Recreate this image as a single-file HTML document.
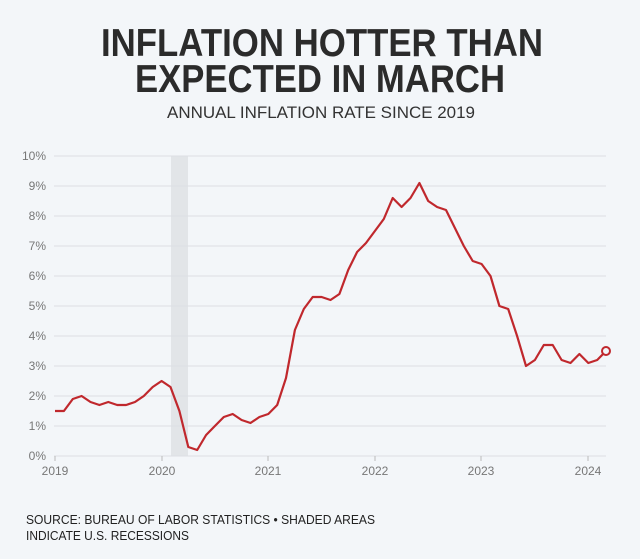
<!DOCTYPE html>
<html><head><style>
html,body{margin:0;padding:0;background:#f3f6f9;}
</style></head><body>
<svg width="640" height="559" xmlns="http://www.w3.org/2000/svg" style="display:block;font-family:'Liberation Sans',sans-serif">
<rect width="640" height="559" fill="#f3f6f9"/>
<text x="322" y="56" text-anchor="middle" font-size="39" font-weight="bold" fill="#2b2b2b" textLength="442" lengthAdjust="spacingAndGlyphs">INFLATION HOTTER THAN</text>
<text x="320" y="92" text-anchor="middle" font-size="39" font-weight="bold" fill="#2b2b2b" textLength="370" lengthAdjust="spacingAndGlyphs">EXPECTED IN MARCH</text>
<text x="321" y="118" text-anchor="middle" font-size="17" fill="#333" textLength="308" lengthAdjust="spacingAndGlyphs">ANNUAL INFLATION RATE SINCE 2019</text>
<rect x="171" y="156" width="17" height="300" fill="#e2e5e8"/>
<g stroke="#dcdfe3" stroke-width="1">
<line x1="54" x2="606" y1="156" y2="156"/><line x1="54" x2="606" y1="186" y2="186"/><line x1="54" x2="606" y1="216" y2="216"/><line x1="54" x2="606" y1="246" y2="246"/><line x1="54" x2="606" y1="276" y2="276"/><line x1="54" x2="606" y1="306" y2="306"/><line x1="54" x2="606" y1="336" y2="336"/><line x1="54" x2="606" y1="366" y2="366"/><line x1="54" x2="606" y1="396" y2="396"/><line x1="54" x2="606" y1="426" y2="426"/><line x1="54" x2="606" y1="456" y2="456"/>
</g>
<g stroke="#bbb"><line x1="55" x2="55" y1="456" y2="461"/><line x1="162" x2="162" y1="456" y2="461"/><line x1="268" x2="268" y1="456" y2="461"/><line x1="375" x2="375" y1="456" y2="461"/><line x1="481" x2="481" y1="456" y2="461"/><line x1="588" x2="588" y1="456" y2="461"/></g>
<g font-size="12" fill="#777" text-anchor="end">
<text x="46" y="160">10%</text><text x="46" y="190">9%</text><text x="46" y="220">8%</text><text x="46" y="250">7%</text><text x="46" y="280">6%</text><text x="46" y="310">5%</text><text x="46" y="340">4%</text><text x="46" y="370">3%</text><text x="46" y="400">2%</text><text x="46" y="430">1%</text><text x="46" y="460">0%</text>
</g>
<g font-size="12" fill="#777" text-anchor="middle">
<text x="55" y="475">2019</text><text x="162" y="475">2020</text><text x="268" y="475">2021</text><text x="375" y="475">2022</text><text x="481" y="475">2023</text><text x="588" y="475">2024</text>
</g>
<polyline fill="none" stroke="#c0282d" stroke-width="2.2" stroke-linejoin="round" points="55,411 63.9,411 72.8,399 81.6,396 90.5,402 99.4,405 108.3,402 117.2,405 126.1,405 135,402 143.8,396 152.7,387 161.6,381 170.5,387 179.4,411 188.3,447 197.2,450 206.1,435 214.9,426 223.8,417 232.7,414 241.6,420 250.5,423 259.4,417 268.3,414 277.2,405 286,378 294.9,330 303.8,309 312.7,297 321.6,297 330.5,300 339.4,294 348.2,270 357.1,252 366,243 374.9,231 383.8,219 392.7,198 401.6,207 410.5,198 419.4,183 428.2,201 437.1,207 446,210 454.9,228 463.8,246 472.7,261 481.6,264 490.5,276 499.4,306 508.2,309 517.1,336 526,366 534.9,360 543.8,345 552.7,345 561.6,360 570.5,363 579.4,354 588.3,363 597.2,360 606,351"/>
<circle cx="606" cy="351" r="4" fill="#f3f6f9" stroke="#c0282d" stroke-width="2"/>
<text x="26" y="524" font-size="13" fill="#222" textLength="349" lengthAdjust="spacingAndGlyphs">SOURCE: BUREAU OF LABOR STATISTICS • SHADED AREAS</text>
<text x="26" y="540" font-size="13" fill="#222" textLength="163" lengthAdjust="spacingAndGlyphs">INDICATE U.S. RECESSIONS</text>
</svg>
</body></html>
